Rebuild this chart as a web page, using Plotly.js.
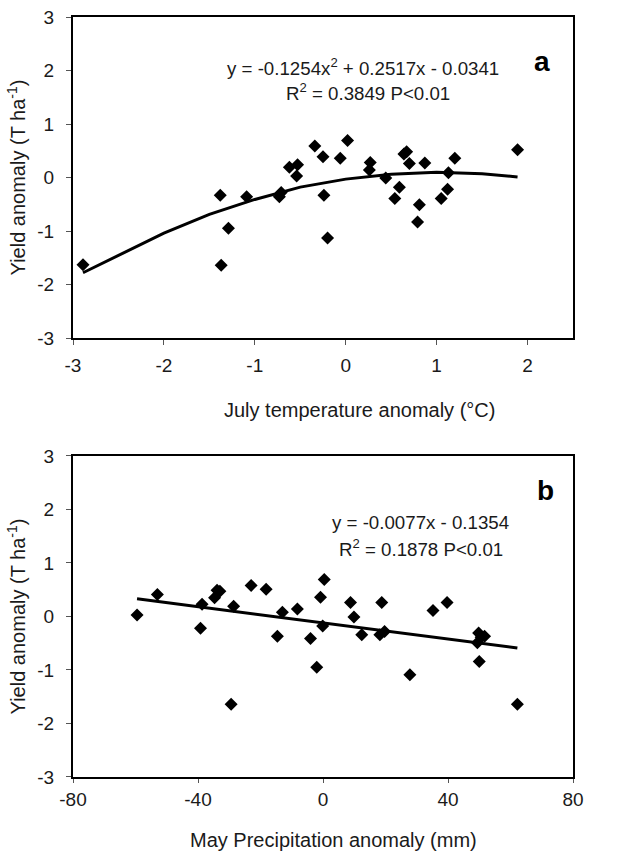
<!DOCTYPE html>
<html>
<head>
<meta charset="utf-8">
<script src="https://cdn.plot.ly/plotly-3.0.1.min.js"></script>
<style>
  html, body { margin: 0; padding: 0; background: #ffffff; }
  #chart { width: 639px; height: 854px; }
</style>
</head>
<body>
<div id="chart"></div>
<script>
// ---- Panel a: July temperature anomaly vs yield anomaly ----
const tempA = [-2.89, -1.38, -1.37, -1.29, -1.09, -0.73, -0.71, -0.62, -0.53, -0.54,
               -0.34, -0.25, -0.24, -0.20, -0.06, 0.02, 0.27, 0.26, 0.44, 0.54,
               0.59, 0.64, 0.67, 0.70, 0.81, 0.79, 0.87, 1.05, 1.12, 1.13, 1.20, 1.89];
const yieldA = [-1.63, -0.33, -1.64, -0.95, -0.36, -0.36, -0.28, 0.19, 0.24, 0.03,
                0.59, 0.39, -0.33, -1.13, 0.36, 0.69, 0.28, 0.14, -0.01, -0.39,
                -0.18, 0.44, 0.48, 0.26, -0.51, -0.83, 0.27, -0.39, -0.22, 0.09, 0.36, 0.52];
// fitted curve
const fitAx = [-2.89, -2.5, -2.0, -1.5, -1.0, -0.5, 0.0, 0.5, 1.0, 1.5, 1.89];
const fitAy = [-1.78, -1.45, -1.04, -0.69, -0.41, -0.18, -0.03, 0.06, 0.10, 0.07, 0.01];

// ---- Panel b: May precipitation anomaly vs yield anomaly ----
const precipB = [-59.5, -53.0, -38.7, -39.2, -34.7, -33.9, -33.0, -28.6, -29.4, -23.0,
                 -18.2, -14.6, -13.0, -8.2, -4.0, -2.0, -0.8, 0.4, -0.1, 8.8,
                 9.9, 12.4, 18.2, 19.7, 18.8, 27.8, 35.2, 39.7, 49.8, 49.4,
                 50.6, 51.7, 50.0, 62.2];
const yieldB = [0.03, 0.41, 0.23, -0.22, 0.35, 0.49, 0.47, 0.19, -1.64, 0.58,
                0.51, -0.37, 0.08, 0.14, -0.41, -0.95, 0.36, 0.69, -0.18, 0.26,
                -0.01, -0.34, -0.34, -0.28, 0.26, -1.09, 0.11, 0.26, -0.31, -0.49,
                -0.39, -0.37, -0.84, -1.64];
const fitBx = [-59.5, 62.2];
const fitBy = [0.33, -0.59];

// ---- text ----
const eqA1 = 'y = -0.1254x<sup>2</sup> + 0.2517x - 0.0341';
const eqA2 = 'R<sup>2</sup> = 0.3849 P&lt;0.01';
const eqB1 = 'y = -0.0077x - 0.1354';
const eqB2 = 'R<sup>2</sup> = 0.1878 P&lt;0.01';
const xTitleA = 'July temperature anomaly (°C)';
const xTitleB = 'May Precipitation anomaly (mm)';
const yTitle = 'Yield anomaly (T ha<sup>-1</sup>)';
const tickA = [-3, -2, -1, 0, 1, 2];
const tickB = [-80, -40, 0, 40, 80];
const tickY = [-3, -2, -1, 0, 1, 2, 3];

const FONT = 'Liberation Sans, Arial, Helvetica, sans-serif';
const TXT = '#1a1a1a';

const marker = { symbol: 'diamond', size: 10, color: '#000000', line: { width: 0 } };

const traces = [
  { x: fitAx, y: fitAy, xaxis: 'x', yaxis: 'y', mode: 'lines', type: 'scatter',
    line: { color: '#000000', width: 3 }, hoverinfo: 'skip' },
  { x: tempA, y: yieldA, xaxis: 'x', yaxis: 'y', mode: 'markers', type: 'scatter', marker: marker },
  { x: fitBx, y: fitBy, xaxis: 'x2', yaxis: 'y2', mode: 'lines', type: 'scatter',
    line: { color: '#000000', width: 3 }, hoverinfo: 'skip' },
  { x: precipB, y: yieldB, xaxis: 'x2', yaxis: 'y2', mode: 'markers', type: 'scatter', marker: marker }
];

function xAxis(range, ticks, anchor, standoff, len) {
  return {
    range: range, tickvals: ticks, ticktext: ticks.map(String), anchor: anchor,
    showgrid: false, zeroline: false,
    showline: true, linecolor: '#000000', linewidth: 2, mirror: true,
    ticks: 'outside', ticklen: len, tickwidth: 1, tickcolor: '#555555',
    ticklabelstandoff: standoff,
    tickfont: { family: FONT, size: 19, color: TXT }
  };
}
function yAxis(domain, anchor) {
  return {
    domain: domain, range: [-3, 3], tickvals: tickY, ticktext: tickY.map(String), anchor: anchor,
    showgrid: false, zeroline: false,
    showline: true, linecolor: '#000000', linewidth: 2, mirror: true,
    ticks: 'outside', ticklen: 5, tickwidth: 1, tickcolor: '#555555',
    ticklabelstandoff: 8,
    tickfont: { family: FONT, size: 19, color: TXT },
    title: { text: yTitle, font: { family: FONT, size: 20, color: TXT }, standoff: 6 }
  };
}

const layout = {
  width: 639, height: 854,
  margin: { l: 73, r: 66, t: 17, b: 77 },
  paper_bgcolor: '#ffffff', plot_bgcolor: '#ffffff',
  showlegend: false,
  font: { family: FONT, color: TXT },
  xaxis: xAxis([-3, 2.5], tickA, 'y', 4, 5),
  yaxis: yAxis([0.5776, 1], 'x'),
  xaxis2: xAxis([-80, 80], tickB, 'y2', 0, 4),
  yaxis2: yAxis([0, 0.4224], 'x2'),
  annotations: [
    { xref: 'x', yref: 'y', x: 0.185, y: 2.07, text: eqA1, showarrow: false,
      font: { family: FONT, size: 18.7, color: TXT } },
    { xref: 'x', yref: 'y', x: 0.245, y: 1.59, text: eqA2, showarrow: false,
      font: { family: FONT, size: 18.7, color: TXT } },
    { xref: 'x', yref: 'y', x: 2.16, y: 2.17, text: '<b>a</b>', showarrow: false,
      font: { family: FONT, size: 28, color: '#000000' } },
    { xref: 'x2', yref: 'y2', x: 31.2, y: 1.76, text: eqB1, showarrow: false,
      font: { family: FONT, size: 18.7, color: TXT } },
    { xref: 'x2', yref: 'y2', x: 31.2, y: 1.28, text: eqB2, showarrow: false,
      font: { family: FONT, size: 18.7, color: TXT } },
    { xref: 'x2', yref: 'y2', x: 71.3, y: 2.36, text: '<b>b</b>', showarrow: false,
      font: { family: FONT, size: 28, color: '#000000' } },
    { xref: 'paper', yref: 'paper', x: 0.572, y: 0.4829, text: xTitleA, showarrow: false,
      xanchor: 'center', yanchor: 'middle', font: { family: FONT, size: 20, color: TXT } },
    { xref: 'paper', yref: 'paper', x: 0.52, y: -0.0829, text: xTitleB, showarrow: false,
      xanchor: 'center', yanchor: 'middle', font: { family: FONT, size: 20, color: TXT } }
  ]
};

Plotly.newPlot('chart', traces, layout, { staticPlot: true, displayModeBar: false });
</script>
</body>
</html>
